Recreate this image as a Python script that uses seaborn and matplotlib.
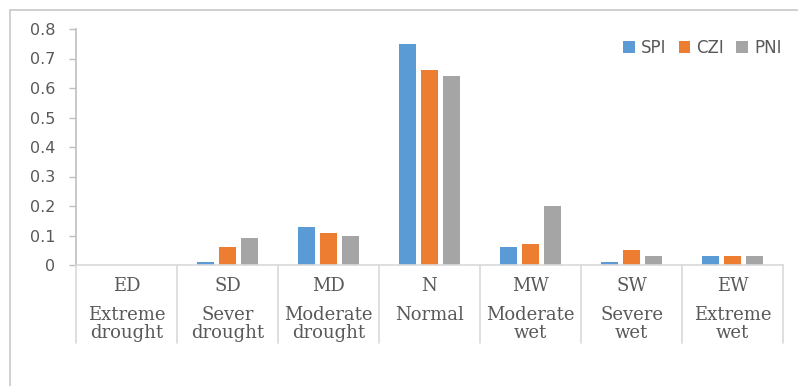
import numpy as np
import pandas as pd
import matplotlib
matplotlib.use("Agg")
import matplotlib.pyplot as plt
import matplotlib.transforms as mtransforms
from matplotlib.patches import Rectangle
import seaborn as sns

# Drought / wetness classes and frequency of each index
codes = ["ED", "SD", "MD", "N", "MW", "SW", "EW"]
names = ["Extreme\ndrought", "Sever\ndrought", "Moderate\ndrought", "Normal",
         "Moderate\nwet", "Severe\nwet", "Extreme\nwet"]
spi = [0.00, 0.01, 0.13, 0.75, 0.06, 0.01, 0.03]
czi = [0.00, 0.06, 0.11, 0.66, 0.07, 0.05, 0.03]
pni = [0.00, 0.09, 0.10, 0.64, 0.20, 0.03, 0.03]
series = ["SPI", "CZI", "PNI"]
colors = ["#5B9BD5", "#ED7D31", "#A5A5A5"]
yticks = [0, 0.1, 0.2, 0.3, 0.4, 0.5, 0.6, 0.7, 0.8]
ytick_labels = ["0", "0.1", "0.2", "0.3", "0.4", "0.5", "0.6", "0.7", "0.8"]

df = pd.DataFrame({
    "code": codes * 3,
    "value": spi + czi + pni,
    "index": [s for s in series for _ in codes],
})

sns.set_theme(style="white")
plt.rcParams["font.family"] = ["DejaVu Serif"]
text_color = "#595959"
axis_color = "#BFBFBF"
grid_color = "#D9D9D9"

W, H = 798, 386
fig = plt.figure(figsize=(W / 100, H / 100), dpi=100)

def fx(px):
    return px / W

def fy(py):
    return 1 - py / H

ax = fig.add_axes([fx(76), fy(265), fx(783) - fx(76), fy(29) - fy(265)])

sns.barplot(data=df, x="code", y="value", hue="index", order=codes,
            hue_order=series, palette=colors, width=0.65, gap=0.2,
            ax=ax, saturation=1, linewidth=0, errorbar=None)

ax.set_xlim(-0.5, len(codes) - 0.5)
ax.set_ylim(0, 0.8)
ax.set_yticks(yticks)
ax.set_yticklabels(ytick_labels, fontsize=11.5, color=text_color,
                   family="DejaVu Sans")
ax.set_xticks([])
ax.set_xlabel("")
ax.set_ylabel("")
for side in ["top", "right"]:
    ax.spines[side].set_visible(False)
ax.spines["left"].set_color(axis_color)
ax.spines["left"].set_linewidth(1.2)
ax.spines["bottom"].set_color(grid_color)
ax.spines["bottom"].set_linewidth(1.2)
ax.tick_params(axis="y", length=5, width=1, color=axis_color, pad=10, left=True)

# Two-level category axis below the bars
trans = mtransforms.blended_transform_factory(ax.transData, ax.transAxes)
pix = 1 / (265 - 29)
for i in range(len(codes) + 1):
    ax.plot([i - 0.5, i - 0.5], [0, -78 * pix], transform=trans,
            color=grid_color, lw=1.2, clip_on=False)
for i, (c, n) in enumerate(zip(codes, names)):
    ax.text(i, -(291 - 265) * pix, c, transform=trans, ha="center",
            va="baseline", fontsize=13, color=text_color)
    for k, line in enumerate(n.split("\n")):
        ax.text(i, -(320 + 18 * k - 265) * pix, line, transform=trans,
                ha="center", va="baseline", fontsize=13, color=text_color)

leg = ax.legend(loc="upper right", bbox_to_anchor=(1.012, 1.0), ncol=3,
                frameon=False, fontsize=12, handlelength=0.7,
                handleheight=0.7, handletextpad=0.35, columnspacing=0.75,
                borderaxespad=0.2)
for t in leg.get_texts():
    t.set_color(text_color)
    t.set_family("DejaVu Sans")

# Chart-area border
fig.patches.append(Rectangle((fx(10), fy(400)), fx(800) - fx(10), fy(10) - fy(400),
                             transform=fig.transFigure, fill=False,
                             edgecolor="#C8C8C8", lw=1.2))

fig.savefig("out.png", dpi=100)
